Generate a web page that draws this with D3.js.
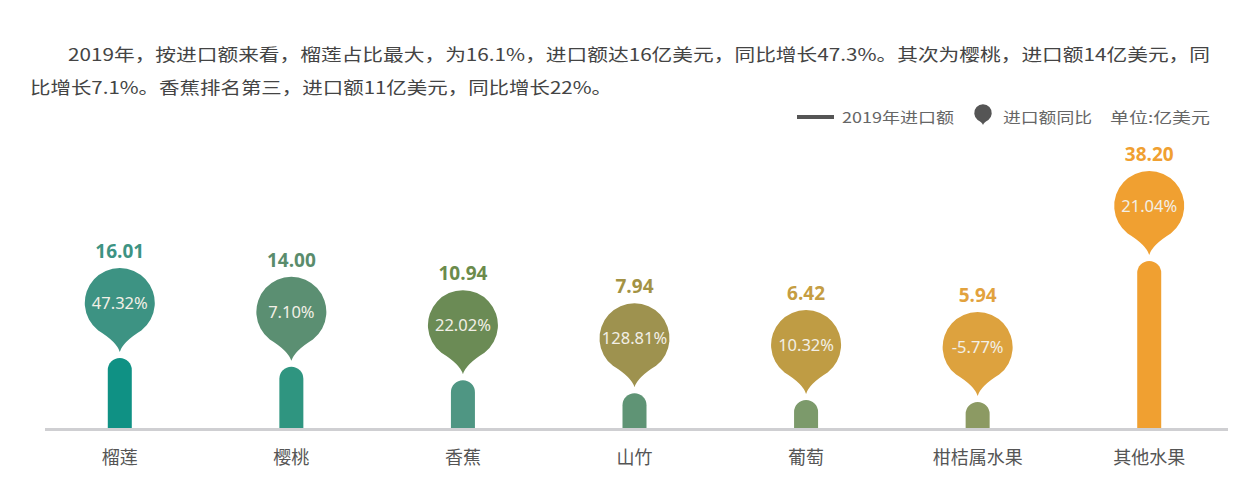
<!DOCTYPE html>
<html><head><meta charset="utf-8">
<script src="https://cdn.jsdelivr.net/npm/d3@7"></script>
<style>html,body{margin:0;padding:0;background:#fff;}svg{display:block;font-family:"Noto Sans CJK SC","Noto Sans",sans-serif;}</style>
</head><body>
<svg id="c" width="1258" height="500"></svg>
<script>
const categories = ["榴莲","樱桃","香蕉","山竹","葡萄","柑桔属水果","其他水果"];
const importValues = [16.01, 14.00, 10.94, 7.94, 6.42, 5.94, 38.20];
const yoyLabels = ["47.32%","7.10%","22.02%","128.81%","10.32%","-5.77%","21.04%"];
const pinColors = ["#3d9383","#5b8f72","#6b8b55","#9e924f","#bf9c44","#dda23e","#f0a031"];
const barColors = ["#0f9184","#2f9580","#4f9683","#5f9475","#7c9a6b","#8c9a63","#f0a031"];
const valueColors = ["#3d9383","#5a8c6c","#6b8b4c","#a39244","#c59d42","#e2a23e","#f0a031"];
const introLines = [
  "2019年，按进口额来看，榴莲占比最大，为16.1%，进口额达16亿美元，同比增长47.3%。其次为樱桃，进口额14亿美元，同",
  "比增长7.1%。香蕉排名第三，进口额11亿美元，同比增长22%。"
];
const legendLabels = ["2019年进口额","进口额同比","单位:亿美元"];

const svg = d3.select("#c");
const baseY = 428;

// intro text
svg.append("text").attr("x",68).attr("y",61).attr("font-size",17).attr("fill","#444")
  .attr("textLength",1142).attr("lengthAdjust","spacingAndGlyphs").text(introLines[0]);
svg.append("text").attr("x",30).attr("y",94).attr("font-size",17).attr("fill","#444")
  .attr("textLength",582).attr("lengthAdjust","spacingAndGlyphs").text(introLines[1]);

// pin path generator
function pinPath(r, tip){
  const th = 38*Math.PI/180;
  const px = r*Math.sin(th), py = r*Math.cos(th);
  return `M${-px},${py} A${r},${r} 0 1 1 ${px},${py} Q${3},${tip-10} 0,${tip} Q${-3},${tip-10} ${-px},${py} Z`;
}

// legend
const lg = svg.append("g").attr("font-size",15).attr("fill","#666");
lg.append("rect").attr("x",797).attr("y",115).attr("width",37).attr("height",4).attr("fill","#555");
lg.append("text").attr("x",842).attr("y",123).attr("fill","#666")
  .attr("textLength",112).attr("lengthAdjust","spacingAndGlyphs").text(legendLabels[0]);
lg.append("path").attr("transform","translate(983,113) scale(0.25)").attr("d",pinPath(35,48)).attr("fill","#555");
lg.append("text").attr("x",1003).attr("y",123).attr("fill","#666")
  .attr("textLength",89).attr("lengthAdjust","spacingAndGlyphs").text(legendLabels[1]);
lg.append("text").attr("x",1110).attr("y",123).attr("fill","#666")
  .attr("textLength",100).attr("lengthAdjust","spacingAndGlyphs").text(legendLabels[2]);

const x = d3.scaleBand().domain(categories).range([34,1235]);
const y = d3.scaleLinear().domain([0, d3.max(importValues)]).range([baseY, baseY-167]);

const data = categories.map((c,i)=>({c, v:importValues[i], p:yoyLabels[i], i}));

// axis line
svg.append("line").attr("x1",45).attr("x2",1228).attr("y1",baseY+1.5).attr("y2",baseY+1.5)
  .attr("stroke","#cfcfd2").attr("stroke-width",3);

// bars with rounded top
const bw = 24;
svg.append("g").selectAll("path").data(data).join("path")
  .attr("fill",d=>barColors[d.i])
  .attr("d",d=>{
    const cx = x(d.c)+x.bandwidth()/2, top = y(d.v), r = bw/2;
    return `M${cx-r},${baseY} V${top+r} A${r},${r} 0 0 1 ${cx+r},${top+r} V${baseY} Z`;
  });

// pins
const R = 35, TIP = 49, GAP = 6;
const pins = svg.append("g").selectAll("g").data(data).join("g")
  .attr("transform",d=>`translate(${x(d.c)+x.bandwidth()/2},${y(d.v)-GAP-TIP})`);
pins.append("path").attr("d",pinPath(R,TIP)).attr("fill",d=>pinColors[d.i]);
pins.append("text").attr("text-anchor","middle").attr("y",6).attr("font-size",16.5)
  .attr("font-family","'Noto Sans','Open Sans',sans-serif")
  .attr("fill","#f2efe6").text(d=>d.p);
pins.append("text").attr("text-anchor","middle").attr("y",-R-10).attr("font-size",19)
  .attr("font-weight","bold").attr("font-family","'Open Sans','Noto Sans',sans-serif")
  .attr("fill",d=>valueColors[d.i]).text(d=>d.v.toFixed(2));

// category labels
svg.append("g").selectAll("text").data(data).join("text")
  .attr("x",d=>x(d.c)+x.bandwidth()/2).attr("y",464).attr("text-anchor","middle")
  .attr("font-size",18).attr("fill","#555").text(d=>d.c);
</script>
</body></html>
